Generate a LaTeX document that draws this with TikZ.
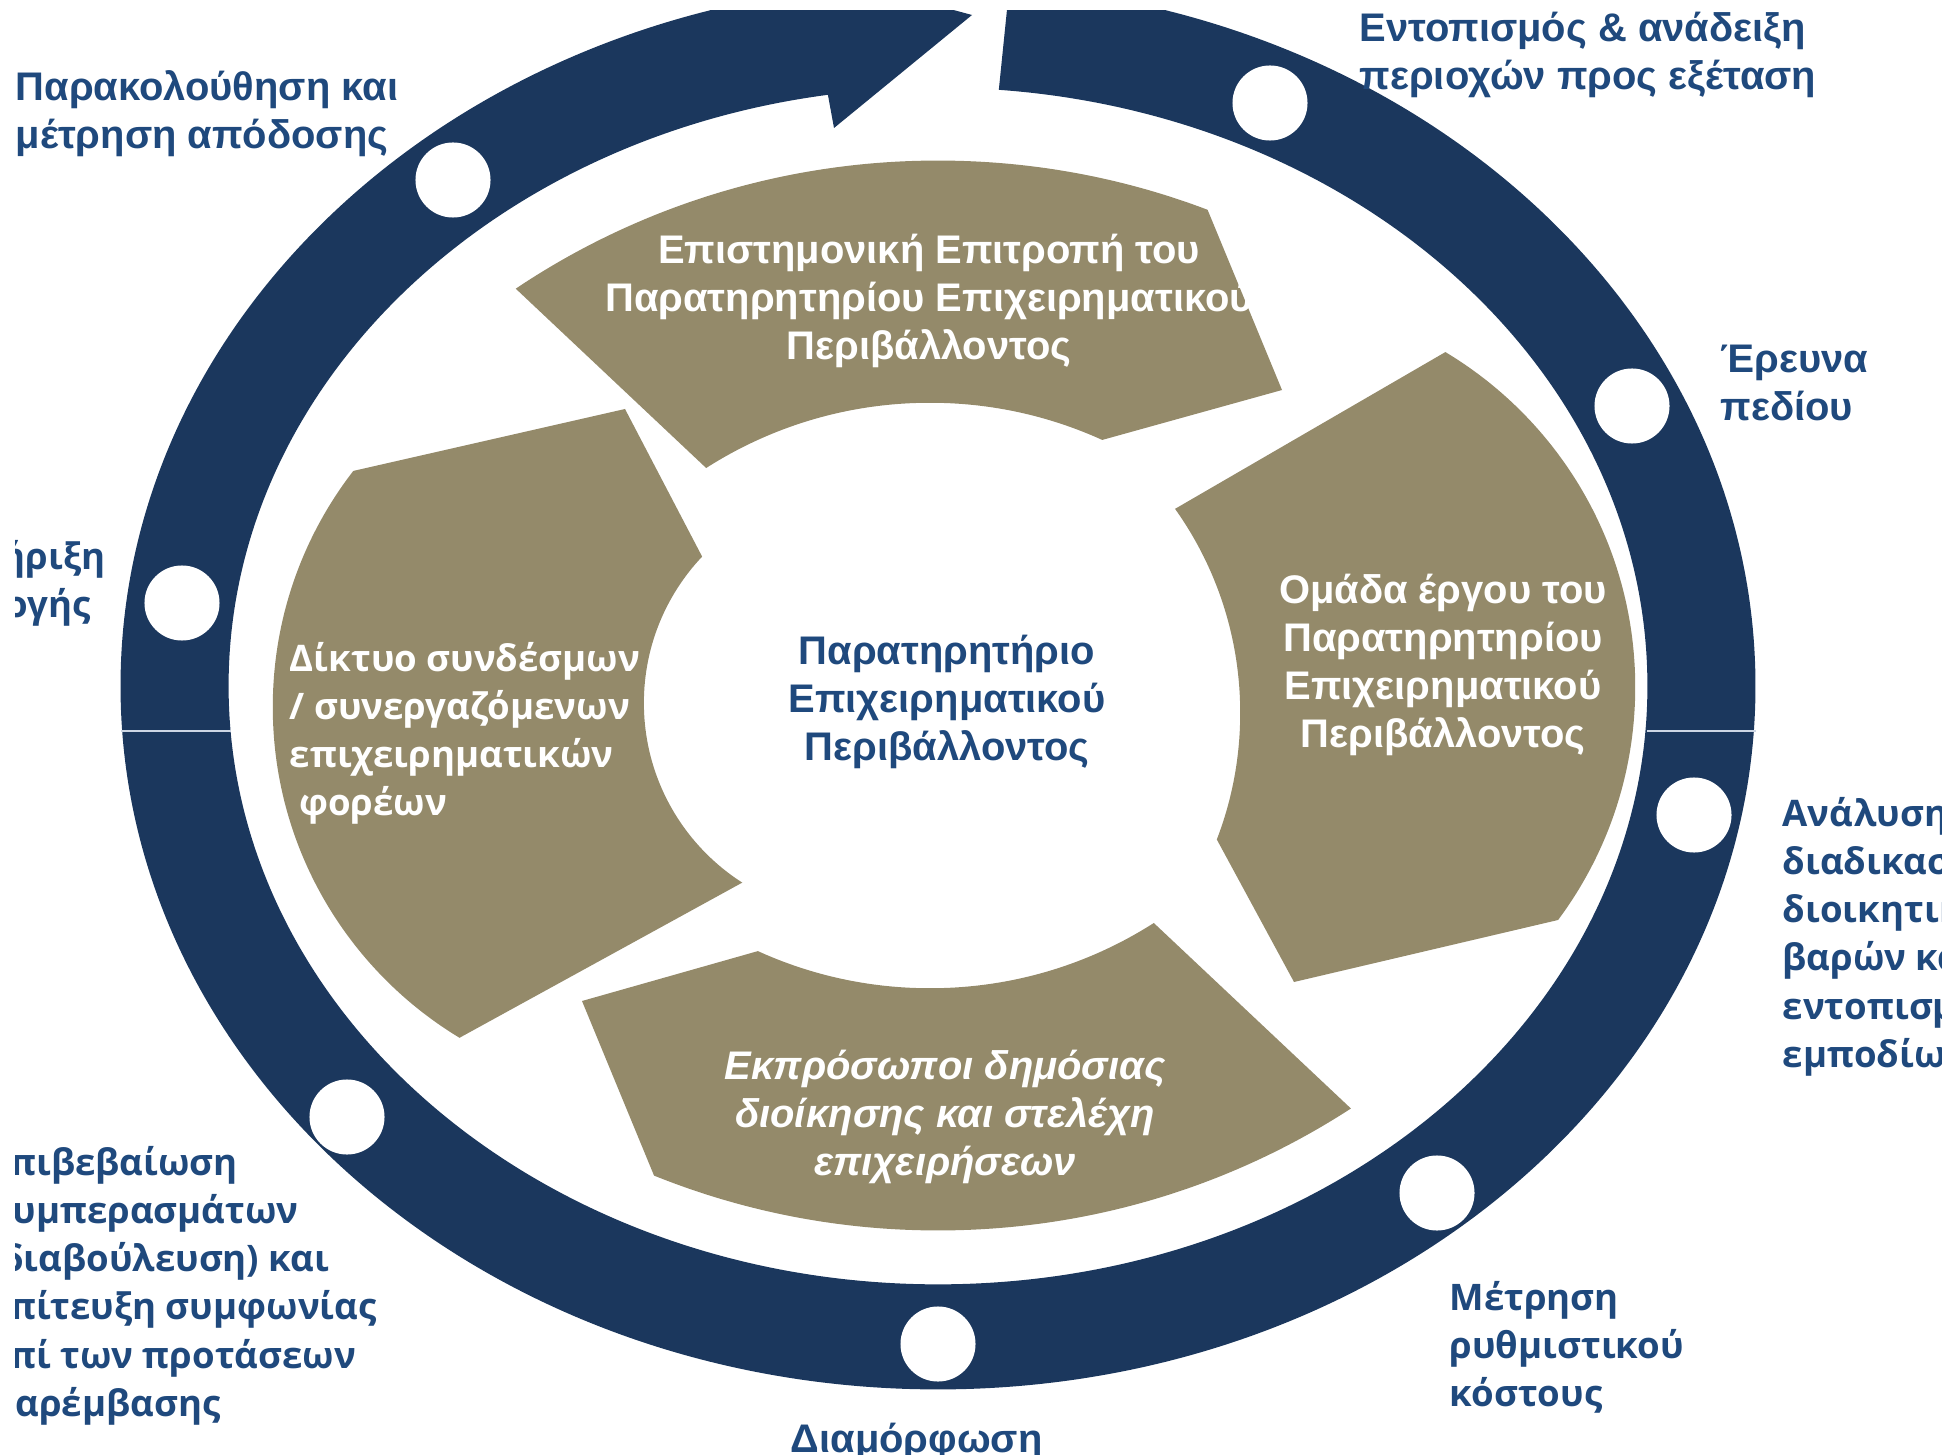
\documentclass[tikz,border=0pt]{standalone}
\usepackage{fontspec}
\setmainfont{Liberation Sans}
\newfontfamily\osans{Open Sans}
\definecolor{navy}{RGB}{27,55,93}
\definecolor{lblue}{RGB}{31,73,125}
\definecolor{khaki}{RGB}{148,138,106}
\definecolor{seam}{RGB}{205,214,228}
\newcommand{\mystrut}{\rule{0pt}{10pt}}
\begin{document}
\begin{tikzpicture}[x=0.01cm,y=-0.01cm,
  lbl/.style={font=\bfseries\fontsize{11.35}{13.66}\selectfont, text=lblue, align=left, inner sep=0pt, anchor=north west},
  olbl/.style={font=\osans\bfseries\fontsize{10.4}{13.66}\selectfont, text=lblue, align=left, inner sep=0pt, anchor=north west},
  wtxt/.style={font=\bfseries\fontsize{11.35}{13.66}\selectfont, text=white, align=center, inner sep=0pt, anchor=north},
  dot/.style={circle, fill=white, inner sep=0pt, minimum size=0.75cm},
  ringfill/.style={fill=navy, even odd rule},
  segfill/.style={fill=khaki, even odd rule}]
\useasboundingbox (0,0) rectangle (1942,1455);
\begin{scope}
\clip (15,11) rectangle (1942,1455);
% outer ring with gap
\begin{scope}
\clip (938,686) -- (1060,-510) -- (2500,-510) -- (2500,2500) -- (-600,2500) -- (-600,-510) -- (730,-496) -- cycle;
\path[ringfill] (938,686) ellipse[x radius=8.17cm, y radius=7.03cm] (938,686) ellipse[x radius=7.09cm, y radius=5.98cm];
\end{scope}
% arrow head
\fill[navy] (834,128) -- (972,15) -- (805,-30) -- cycle;
% seams
\draw[seam, line width=0.35pt] (121,731) -- (231,731);
\draw[seam, line width=0.35pt] (1647,731) -- (1756,731);
% dots
\node[dot] (d1) at (1270,103) {};
\node[dot] (d2) at (1632,406) {};
\node[dot] (d3) at (1694,815) {};
\node[dot] (d4) at (1437,1193) {};
\node[dot] (d5) at (938,1344) {};
\node[dot] (d6) at (347,1117) {};
\node[dot] (d7) at (182,603) {};
\node[dot] (d8) at (453,180) {};
% khaki segments
\begin{scope}
\clip (326,110) -- (858,611) -- (958,480) -- (1282,390) -- (1149,68) -- cycle;
\path[segfill] (938,920) circle[radius=7.59cm] (930,819) circle[radius=4.16cm];
\end{scope}
\begin{scope}
\clip (1580,274) -- (1011,604) -- (1138,694) -- (1294,982) -- (1690,889) -- (1750,700) -- cycle;
\path[segfill] (1245,687) circle[radius=3.90cm] (888,713) circle[radius=3.52cm];
\end{scope}
\begin{scope}
\clip (1038,814) -- (1463,1214) -- (1000,1350) -- (693,1270) -- (582,1001) -- (864,921) -- cycle;
\path[segfill] (938,471) circle[radius=7.59cm] (930,572) circle[radius=4.16cm];
\end{scope}
\begin{scope}
\clip (911,790) -- (317,1116) -- (150,800) -- (217,502) -- (625,409) -- (764,675) -- cycle;
\path[segfill] (659,707) circle[radius=3.86cm] (857,703) circle[radius=2.13cm];
\end{scope}
% outer labels
\node[lbl] (t1) at (15,65) {\mystrut Παρακολούθηση και\\μέτρηση απόδοσης};
\node[lbl] (t2) at (1359,6) {\mystrut Εντοπισμός \& ανάδειξη\\περιοχών προς εξέταση};
\node[lbl] (t3) at (1720,337) {\mystrut Έρευνα\\πεδίου};
\node[olbl] (t4) at (-115,534) {\mystrut Υποστήριξη\\εφαρμογής};
\node[olbl] (t5) at (-12,1140) {\mystrut Επιβεβαίωση\\συμπερασμάτων\\(διαβούλευση) και\\επίτευξη συμφωνίας\\επί των προτάσεων\\παρέμβασης};
\node[lbl] (t6) at (790,1417) {\mystrut Διαμόρφωση};
\node[olbl] (t7) at (1449,1275) {\mystrut Μέτρηση\\ρυθμιστικού\\κόστους};
\node[olbl] (t8) at (1782,791) {\mystrut Ανάλυση\\διαδικασιών\\διοικητικών\\βαρών και\\εντοπισμός\\εμποδίων};
% inner texts
\node[wtxt, text=lblue] (c0) at (947,629) {\mystrut Παρατηρητήριο\\Επιχειρηματικού\\Περιβάλλοντος};
\node[wtxt] (k1) at (929,228) {\mystrut Επιστημονική Επιτροπή του\\Παρατηρητηρίου Επιχειρηματικού\\Περιβάλλοντος};
\node[wtxt] (k2) at (1443,568) {\mystrut Ομάδα έργου του\\Παρατηρητηρίου\\Επιχειρηματικού\\Περιβάλλοντος};
\node[olbl, text=white] (k3) at (289,636) {\mystrut Δίκτυο συνδέσμων\\/ συνεργαζόμενων\\επιχειρηματικών\\\ φορέων};
\node[wtxt, font=\bfseries\itshape\fontsize{11.35}{13.66}\selectfont] (k4) at (945,1044) {\mystrut Εκπρόσωποι δημόσιας\\διοίκησης και στελέχη\\επιχειρήσεων};
\end{scope}
\end{tikzpicture}
\end{document}
